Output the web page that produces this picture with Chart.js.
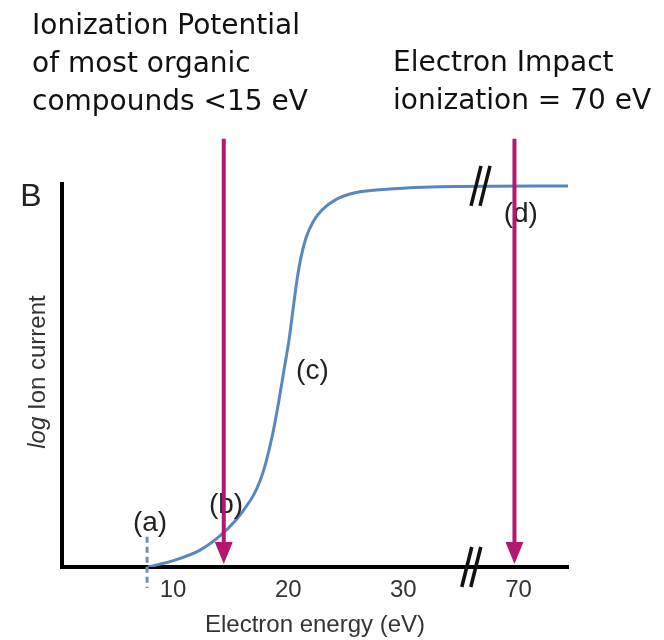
<!DOCTYPE html>
<html>
<head>
<meta charset="utf-8">
<script src="https://cdn.jsdelivr.net/npm/chart.js@4.4.1/dist/chart.umd.min.js"></script>
<style>
  body { margin: 0; background: #fff; }
  canvas { display: block; }
</style>
</head>
<body>
<canvas id="chart" width="664" height="640"></canvas>
<script>
// Kurve (x in Achsen-Einheiten, 70 eV liegt hinter dem Achsenbruch bei 40)
const energie = [7.82, 10.17, 12.34, 14.07, 15.38, 16.25, 16.94, 17.55, 18.07, 18.68, 19.2, 19.63, 20.07, 20.41, 20.76, 21.11, 21.54, 22.15, 22.93, 24.06, 25.8, 28.84, 33.18, 44.3];
const ionenstrom = [0, 1.8, 4.4, 8.1, 12.0, 15.4, 18.5, 22.45, 27.4, 35.2, 43.6, 51.4, 59.3, 67.1, 74.9, 80.9, 85.9, 90.1, 93.2, 95.8, 97.7, 98.7, 99.3, 99.5];

// Achsenbeschriftung
const tickWerte = [10, 20, 30, 40];
const tickTexte = ['10', '20', '30', '70'];

// Pfeile: Ionisationspotential (~15 eV) und Elektronenstoss (70 eV)
const pfeilX = [14.4, 39.65];
const pfeilOben = 111.8;
const pfeilSpitze = 0.8;

// Markierungen
const punktTexte = ['(a)', '(b)', '(c)', '(d)'];
const punktX = [8.0, 14.6, 22.1, 40.2];
const punktY = [11.5, 16.0, 51.0, 92.1];
const markerA = 7.74;
const bruchX = [36.7, 35.9];
const bruchY = [99.5, 0];

const textLinks = ['Ionization Potential', 'of most organic', 'compounds <15 eV'];
const textRechts = ['Electron Impact', 'ionization = 70 eV'];

const extras = {
  id: 'extras',
  beforeDatasetsDraw(chart) {
    const ctx = chart.ctx;
    const xs = chart.scales.x, ys = chart.scales.y;
    // gestrichelte Linie bei (a)
    ctx.save();
    ctx.strokeStyle = '#6d8db5';
    ctx.lineWidth = 3;
    ctx.setLineDash([6, 4]);
    ctx.beginPath();
    ctx.moveTo(xs.getPixelForValue(markerA), ys.getPixelForValue(7.9));
    ctx.lineTo(xs.getPixelForValue(markerA), ys.getPixelForValue(-5.5));
    ctx.stroke();
    ctx.restore();
  },
  afterDraw(chart) {
    const ctx = chart.ctx;
    const xs = chart.scales.x, ys = chart.scales.y;
    ctx.save();

    // Achsenbrueche
    ctx.strokeStyle = '#111';
    ctx.lineWidth = 3.5;
    bruchX.forEach((bx, i) => {
      const cx = xs.getPixelForValue(bx);
      const cy = ys.getPixelForValue(bruchY[i]);
      [-4.5, 4.5].forEach(d => {
        ctx.beginPath();
        ctx.moveTo(cx + d - 5, cy + 20);
        ctx.lineTo(cx + d + 5, cy - 20);
        ctx.stroke();
      });
    });

    // (a) - (d)
    ctx.fillStyle = '#222';
    ctx.font = '28px "Liberation Sans", Arial, sans-serif';
    ctx.textAlign = 'center';
    ctx.textBaseline = 'middle';
    punktTexte.forEach((t, i) => {
      ctx.fillText(t, xs.getPixelForValue(punktX[i]), ys.getPixelForValue(punktY[i]));
    });

    // Pfeile
    ctx.strokeStyle = '#b3176f';
    ctx.fillStyle = '#b3176f';
    ctx.lineWidth = 4;
    pfeilX.forEach(px => {
      const x = xs.getPixelForValue(px);
      const y0 = ys.getPixelForValue(pfeilOben);
      const y1 = ys.getPixelForValue(pfeilSpitze);
      ctx.beginPath();
      ctx.moveTo(x, y0);
      ctx.lineTo(x, y1 - 18);
      ctx.stroke();
      ctx.beginPath();
      ctx.moveTo(x - 9, y1 - 22);
      ctx.lineTo(x + 9, y1 - 22);
      ctx.lineTo(x, y1);
      ctx.closePath();
      ctx.fill();
    });

    // Panel-Buchstabe
    ctx.fillStyle = '#222';
    ctx.font = '32px "Liberation Sans", Arial, sans-serif';
    ctx.fillText('B', 31, 197);

    // y-Achsentitel (log kursiv)
    ctx.translate(38, 372);
    ctx.rotate(-Math.PI / 2);
    ctx.fillStyle = '#333';
    const fKursiv = 'italic 24px "Liberation Sans", Arial, sans-serif';
    const fNormal = '24px "Liberation Sans", Arial, sans-serif';
    ctx.font = fKursiv;
    const w1 = ctx.measureText('log').width;
    ctx.font = fNormal;
    const w2 = ctx.measureText(' Ion current').width;
    ctx.textAlign = 'left';
    ctx.font = fKursiv;
    ctx.fillText('log', -(w1 + w2) / 2, 0);
    ctx.font = fNormal;
    ctx.fillText(' Ion current', -(w1 + w2) / 2 + w1, 0);
    ctx.setTransform(1, 0, 0, 1, 0, 0);

    // Texte oben
    ctx.fillStyle = '#111';
    ctx.font = '28px "DejaVu Sans", sans-serif';
    ctx.textAlign = 'left';
    textLinks.forEach((t, i) => ctx.fillText(t, 32, 27 + i * 38));
    textRechts.forEach((t, i) => ctx.fillText(t, 393, 64 + i * 38));

    ctx.restore();
  }
};

new Chart(document.getElementById('chart'), {
  type: 'line',
  data: {
    datasets: [{
      data: energie.map((e, i) => ({ x: e, y: ionenstrom[i] })),
      borderColor: '#5a86c0',
      borderWidth: 3,
      pointRadius: 0,
      cubicInterpolationMode: 'monotone',
      fill: false
    }]
  },
  options: {
    responsive: false,
    animation: false,
    layout: { padding: { top: 184, right: 96, left: 0, bottom: 0 } },
    plugins: { legend: { display: false }, tooltip: { enabled: false } },
    scales: {
      x: {
        type: 'linear',
        min: 0.35,
        max: 44.3,
        grid: { display: false, drawTicks: false },
        border: { color: '#000', width: 4 },
        afterFit: s => { s.height = 73; },
        afterBuildTicks: s => { s.ticks = tickWerte.map(v => ({ value: v })); },
        ticks: {
          padding: 9,
          color: '#333',
          font: { family: '"Liberation Sans", Arial, sans-serif', size: 24 },
          callback: (v, i) => tickTexte[i]
        },
        title: {
          display: true,
          text: 'Electron energy (eV)',
          color: '#333',
          padding: 0,
          font: { family: '"Liberation Sans", Arial, sans-serif', size: 24 }
        }
      },
      y: {
        min: 0,
        max: 100,
        grid: { display: false, drawTicks: false },
        border: { color: '#000', width: 4 },
        ticks: { display: false },
        afterFit: s => { s.width = 62; }
      }
    }
  },
  plugins: [extras]
});
</script>
</body>
</html>
